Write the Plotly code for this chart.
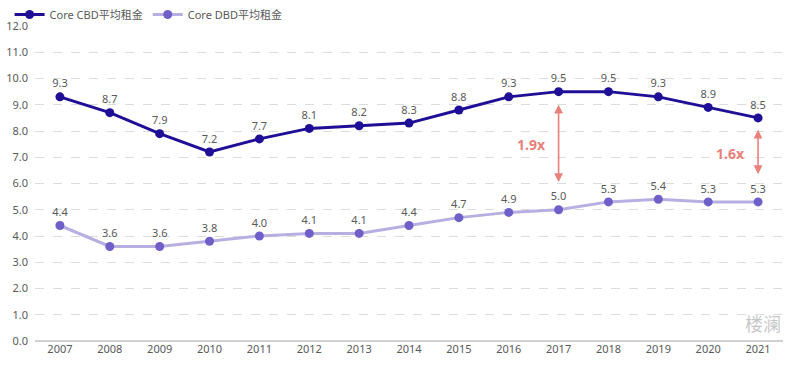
import plotly.graph_objects as go

years = list(range(2007, 2022))
cbd = [9.3, 8.7, 7.9, 7.2, 7.7, 8.1, 8.2, 8.3, 8.8, 9.3, 9.5, 9.5, 9.3, 8.9, 8.5]
dbd = [4.4, 3.6, 3.6, 3.8, 4.0, 4.1, 4.1, 4.4, 4.7, 4.9, 5.0, 5.3, 5.4, 5.3, 5.3]
y_ticks = [i * 1.0 for i in range(13)]

# ratio arrows: (year, top, bottom, label, label_x, label_y)
arrows = [
    (2017, 9.0, 6.0, "1.9x", 2016.45, 7.5),
    (2021, 8.05, 6.3, "1.6x", 2020.45, 7.15),
]

font_main = "Noto Sans, Noto Sans CJK SC, sans-serif"
gray = "#595959"
red = "#e8807c"

fig = go.Figure()
fig.add_trace(go.Scatter(
    x=years, y=cbd, name="Core CBD平均租金",
    mode="lines+markers+text",
    line=dict(color="#1f0f96", width=3),
    marker=dict(color="#1f0f96", size=9),
    text=[f"{v:.1f}" for v in cbd], textposition="top center",
    textfont=dict(color=gray, size=11, family=font_main),
))
fig.add_trace(go.Scatter(
    x=years, y=dbd, name="Core DBD平均租金",
    mode="lines+markers+text",
    line=dict(color="#b7aee2", width=3),
    marker=dict(color="#6f5fc9", size=9),
    text=[f"{v:.1f}" for v in dbd], textposition="top center",
    textfont=dict(color=gray, size=11, family=font_main),
))

annotations = []
for yr, top, bot, lab, lx, ly in arrows:
    annotations.append(dict(
        x=yr, y=top, ax=yr, ay=bot, xref="x", yref="y", axref="x", ayref="y",
        showarrow=True, arrowhead=2, startarrowhead=2, arrowside="end+start",
        arrowwidth=1.6, arrowsize=1.1, arrowcolor=red, text="",
    ))
    annotations.append(dict(
        x=lx, y=ly, xref="x", yref="y", text=f"<b>{lab}</b>", showarrow=False,
        font=dict(color=red, size=14, family=font_main),
    ))
annotations.append(dict(
    x=1.0, y=0.01, xref="paper", yref="paper", xanchor="right", yanchor="bottom",
    text="楼澜", showarrow=False,
    font=dict(color="rgba(140,140,140,0.5)", size=18, family="Noto Sans CJK SC"),
))

fig.update_layout(
    width=800, height=382,
    margin=dict(l=35, r=17, t=26, b=41, autoexpand=False),
    paper_bgcolor="white", plot_bgcolor="white",
    font=dict(family=font_main, color=gray, size=11),
    legend=dict(orientation="h", x=0.012, y=1.0, xref="container", yref="container",
                xanchor="left", yanchor="top",
                font=dict(size=11, color=gray), tracegroupgap=0,
                bgcolor="rgba(0,0,0,0)"),
    annotations=annotations,
    showlegend=True,
)
fig.update_xaxes(
    range=[2006.5, 2021.5], tickmode="array", tickvals=years,
    ticktext=[str(y) for y in years], showgrid=False, zeroline=False,
    showline=False, tickfont=dict(size=11, color=gray), automargin=False,
)
fig.update_yaxes(
    range=[0, 12], tickmode="array", tickvals=y_ticks,
    ticktext=[f"{v:.1f}" for v in y_ticks],
    showgrid=True, gridcolor="#dcdcdc", griddash="dash", gridwidth=1,
    zeroline=True, zerolinecolor="#d0d0d0", zerolinewidth=1.5,
    showline=False, tickfont=dict(size=11, color=gray), automargin=False,
    ticklabelstandoff=6,
)

fig.write_html("out.html", config={"displayModeBar": False},
               post_script="document.body.style.margin='0';")
